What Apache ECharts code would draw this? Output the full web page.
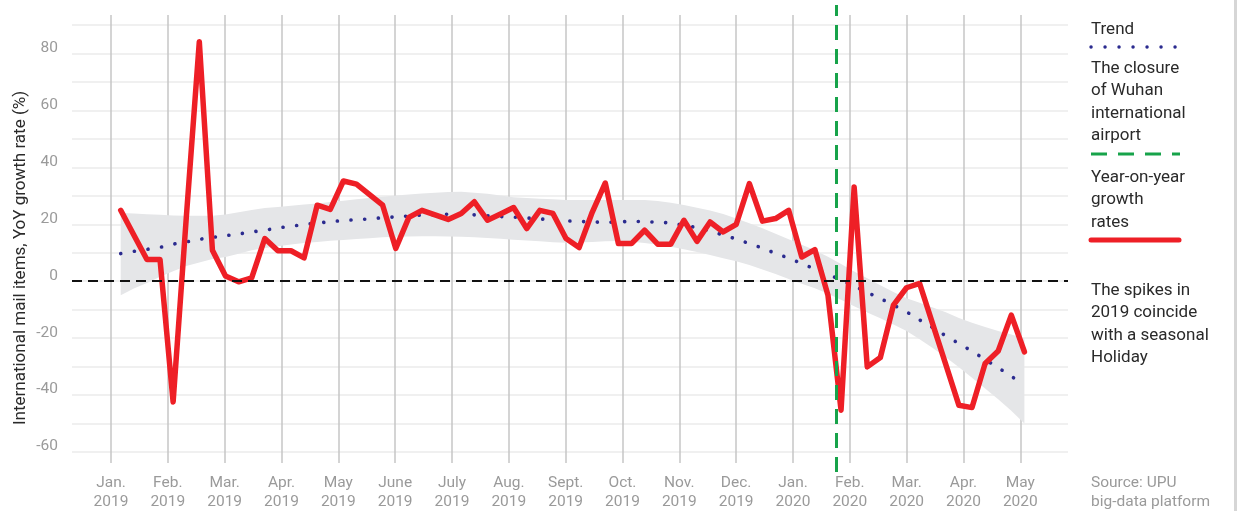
<!DOCTYPE html>
<html>
<head>
<meta charset="utf-8">
<script src="https://cdn.jsdelivr.net/npm/echarts@6/dist/echarts.min.js"></script>
<style>
html, body { margin: 0; padding: 0; background: #fff; }
#chart { width: 1237px; height: 511px; }
</style>
</head>
<body>
<div id="chart"></div>
<script>
// month ticks (0 = Jan. 2019)
var monthLabels = ["Jan.\n2019", "Feb.\n2019", "Mar.\n2019", "Apr.\n2019", "May\n2019", "June\n2019",
    "July\n2019", "Aug.\n2019", "Sept.\n2019", "Oct.\n2019", "Nov.\n2019", "Dec.\n2019",
    "Jan.\n2020", "Feb.\n2020", "Mar.\n2020", "Apr.\n2020", "May\n2020"];

// weekly YoY growth rates (%)
var growth = [24.9, 16.2, 7.6, 7.6, -42.4, 22.0, 84.1, 10.9, 1.8, -0.2,
    1.2, 15.0, 10.7, 10.7, 8.2, 26.7, 25.2, 35.2, 34.1, 30.4,
    26.7, 11.5, 22.4, 24.9, 23.3, 21.7, 23.8, 27.9, 21.4, 23.6,
    25.9, 18.5, 24.9, 23.8, 15.0, 11.8, 24.2, 34.5, 13.2, 13.2,
    17.9, 13.0, 13.0, 21.4, 14.0, 20.8, 17.3, 20.0, 34.3, 21.1,
    22.0, 24.9, 8.5, 11.1, -4.9, -45.3, 33.1, -30.1, -26.8, -8.4,
    -2.3, -0.8, -15.1, -29.3, -43.6, -44.4, -28.9, -24.5, -11.9, -24.8];

// smoothed trend and its confidence band
var trend = [9.7, 10.5, 11.2, 11.9, 13.0, 13.8, 14.7, 15.4, 16.0, 16.6,
    17.3, 17.9, 18.7, 19.3, 19.9, 20.4, 20.9, 21.3, 21.6, 21.9,
    22.3, 22.6, 22.9, 23.2, 23.3, 23.5, 23.4, 23.3, 23.0, 22.7,
    22.5, 22.2, 21.9, 21.5, 21.2, 21.0, 20.8, 20.7, 20.8, 21.0,
    20.9, 20.7, 20.4, 19.6, 18.8, 17.6, 16.2, 14.8, 13.2, 11.6,
    9.8, 8.1, 6.2, 4.3, 2.4, 0.4, -1.7, -3.9, -6.1, -8.4,
    -10.8, -13.6, -16.3, -19.2, -21.9, -24.6, -27.5, -30.4, -33.4, -36.6];

var bandUpper = [24.0, 23.8, 23.5, 23.3, 23.1, 23.0, 23.0, 23.0, 23.4, 24.2,
    25.0, 25.7, 26.1, 26.5, 26.9, 27.3, 27.8, 28.3, 28.8, 29.2,
    29.7, 30.1, 30.5, 30.8, 31.1, 31.3, 31.4, 31.1, 30.7, 30.1,
    29.5, 29.2, 29.0, 28.8, 28.5, 28.5, 28.5, 28.5, 28.5, 28.5,
    28.5, 28.2, 27.6, 26.8, 25.8, 24.8, 23.6, 22.0, 20.4, 18.6,
    16.7, 14.7, 12.8, 10.9, 8.6, 6.0, 3.4, 1.0, -1.4, -3.8,
    -6.0, -7.6, -9.2, -10.9, -12.9, -14.6, -16.1, -17.5, -18.7, -20.1];

var bandLower = [-4.9, -2.6, -0.6, 1.6, 3.5, 5.3, 6.6, 7.8, 8.5, 9.6,
    10.9, 11.7, 12.3, 12.9, 13.4, 13.8, 14.2, 14.5, 14.8, 15.1,
    15.4, 15.6, 15.7, 15.8, 15.8, 15.7, 15.6, 15.4, 15.2, 14.9,
    14.6, 14.3, 14.0, 13.7, 13.5, 13.6, 13.8, 14.0, 14.1, 13.9,
    13.4, 12.8, 12.1, 11.2, 10.3, 9.2, 8.1, 7.0, 5.7, 4.1,
    2.5, 0.8, -0.9, -2.5, -4.4, -6.5, -8.8, -11.0, -13.0, -15.2,
    -17.5, -20.4, -23.5, -26.7, -30.2, -33.9, -37.7, -41.5, -45.5, -50.0];

var firstWeek = 0.171;   // months after 1 Jan 2019
var weekLen = 0.2306;    // one week, in months
var closureMonth = 12.76; // 23 Jan 2020

function weekX(i) { return firstWeek + i * weekLen; }

var growthData = growth.map(function (v, i) { return [weekX(i), v]; });
var trendData = trend.map(function (v, i) { return [weekX(i), v]; });

var chart = echarts.init(document.getElementById('chart'));

var grey = '#9a9a9a';
var ink = '#2a2a2a';
var legendX = 1091;

chart.setOption({
    animation: false,
    backgroundColor: '#fff',
    grid: [
        { left: 72, right: 169, top: 25, bottom: 59 },
        { left: 111, right: 216.7, top: 15, bottom: 46 },
        { left: 111, right: 216.7, top: 5, bottom: 39 }
    ],
    xAxis: [
        { type: 'value', gridIndex: 0, min: -0.687, max: 16.85, show: false },
        {
            type: 'value', gridIndex: 1, min: 0, max: 16, interval: 1,
            axisLine: { show: false }, axisTick: { show: false },
            splitLine: { show: true, showMinLine: true, showMaxLine: true, lineStyle: { color: '#c6c6c6', width: 1.5 } },
            axisLabel: {
                margin: 11, fontFamily: 'Roboto', fontSize: 15.5, lineHeight: 18.5, color: grey,
                formatter: function (v) { return monthLabels[v] || ''; }
            }
        },
        { type: 'value', gridIndex: 2, min: 0, max: 16, show: false }
    ],
    yAxis: [
        {
            type: 'value', gridIndex: 0, min: -60, max: 90, interval: 10,
            axisLine: { show: false }, axisTick: { show: false },
            splitLine: { lineStyle: { color: '#ebebeb', width: 1.5 } },
            axisLabel: {
                margin: 14, fontFamily: 'Roboto', fontSize: 15.5, color: grey,
                verticalAlign: 'bottom', lineHeight: 11,
                formatter: function (v) { return v % 20 === 0 ? String(v) : ''; }
            }
        },
        { type: 'value', gridIndex: 1, min: 0, max: 1, show: false },
        { type: 'value', gridIndex: 2, min: 0, max: 1, show: false }
    ],
    series: [
        {
            // confidence band of the trend
            type: 'custom',
            xAxisIndex: 0, yAxisIndex: 0,
            data: [[0, 0]],
            silent: true,
            z: 1,
            renderItem: function (params, api) {
                var pts = [];
                for (var i = 0; i < bandUpper.length; i++) {
                    pts.push(api.coord([weekX(i), bandUpper[i]]));
                }
                for (var j = bandLower.length - 1; j >= 0; j--) {
                    pts.push(api.coord([weekX(j), bandLower[j]]));
                }
                return { type: 'polygon', shape: { points: pts }, style: { fill: '#e5e6e8' } };
            }
        },
        {
            name: 'Trend',
            type: 'line',
            xAxisIndex: 0, yAxisIndex: 0,
            data: trendData,
            smooth: true,
            showSymbol: false,
            z: 2,
            lineStyle: { color: '#2b2b8f', width: 3.6, type: [0.1, 13.6], cap: 'round' },
            markLine: {
                silent: true,
                symbol: 'none',
                label: { show: false },
                lineStyle: { color: '#111', width: 2, type: [10, 6] },
                data: [{ yAxis: 0 }]
            }
        },
        {
            name: 'Year-on-year growth rates',
            type: 'line',
            xAxisIndex: 0, yAxisIndex: 0,
            data: growthData,
            showSymbol: false,
            z: 4,
            lineStyle: { color: '#ee1f26', width: 5.5, join: 'round', cap: 'round' }
        },
        {
            name: 'The closure of Wuhan international airport',
            type: 'line',
            xAxisIndex: 2, yAxisIndex: 2,
            data: [],
            z: 5,
            markLine: {
                silent: true,
                symbol: 'none',
                label: { show: false },
                lineStyle: { color: '#17a34a', width: 3, type: [15, 9] },
                data: [{ xAxis: closureMonth }]
            }
        }
    ],
    graphic: [
        {
            type: 'text', x: 21, y: 258, rotation: Math.PI / 2,
            style: {
                text: 'International mail items, YoY growth rate (%)',
                fontFamily: 'Roboto', fontSize: 17, fill: ink, align: 'center', verticalAlign: 'middle'
            }
        },
        {
            type: 'text', x: legendX, y: 30,
            style: { text: 'Trend', fontFamily: 'Roboto', fontSize: 17, fill: ink, verticalAlign: 'middle' }
        },
        {
            type: 'line', shape: { x1: legendX, y1: 47, x2: 1178, y2: 47 },
            style: { stroke: '#2b2b8f', lineWidth: 3.4, lineDash: [0.1, 13.9], lineCap: 'round' }
        },
        {
            type: 'text', x: legendX, y: 57,
            style: {
                text: 'The closure\nof Wuhan\ninternational\nairport',
                fontFamily: 'Roboto', fontSize: 17, lineHeight: 22.5, fill: ink, verticalAlign: 'top'
            }
        },
        {
            type: 'line', shape: { x1: legendX, y1: 154, x2: 1180, y2: 154 },
            style: { stroke: '#17a34a', lineWidth: 3, lineDash: [16, 11] }
        },
        {
            type: 'text', x: legendX, y: 166,
            style: {
                text: 'Year-on-year\ngrowth\nrates',
                fontFamily: 'Roboto', fontSize: 17, lineHeight: 22.5, fill: ink, verticalAlign: 'top'
            }
        },
        {
            type: 'line', shape: { x1: legendX, y1: 240, x2: 1179, y2: 240 },
            style: { stroke: '#ee1f26', lineWidth: 5, lineCap: 'round' }
        },
        {
            type: 'text', x: legendX, y: 279,
            style: {
                text: 'The spikes in\n2019 coincide\nwith a seasonal\nHoliday',
                fontFamily: 'Roboto', fontSize: 17, lineHeight: 22.5, fill: ink, verticalAlign: 'top'
            }
        },
        {
            type: 'text', x: legendX, y: 474,
            style: {
                text: 'Source: UPU\nbig-data platform',
                fontFamily: 'Roboto', fontSize: 15.5, lineHeight: 19, fill: grey, verticalAlign: 'top'
            }
        },
        {
            type: 'rect', shape: { x: 1234, y: 0, width: 3, height: 511 },
            style: { fill: '#d6d6d6' }
        }
    ]
});
</script>
</body>
</html>
